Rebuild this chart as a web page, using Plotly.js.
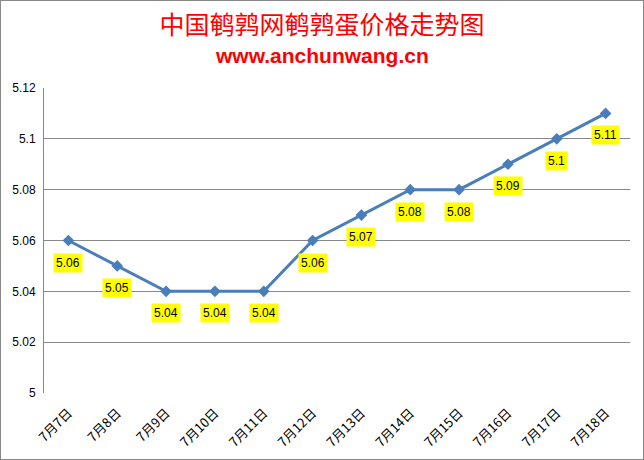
<!DOCTYPE html>
<html>
<head>
<meta charset="utf-8">
<script src="https://cdn.plot.ly/plotly-3.0.1.min.js"></script>
<style>
  body { margin: 0; }
  #plot { width: 642px; height: 458px; border: 1px solid #888; }
</style>
</head>
<body>
<div id="plot"></div>
<script>
var dates = ['7月7日', '7月8日', '7月9日', '7月10日', '7月11日', '7月12日',
             '7月13日', '7月14日', '7月15日', '7月16日', '7月17日', '7月18日'];
var prices = [5.06, 5.05, 5.04, 5.04, 5.04, 5.06, 5.07, 5.08, 5.08, 5.09, 5.1, 5.11];

var trace1 = {
  x: dates,
  y: prices,
  mode: 'lines+markers',
  type: 'scatter',
  line: { color: '#4a7ebb', width: 3 },
  marker: { symbol: 'diamond', size: 9, color: '#4a7ebb' },
  hoverinfo: 'x+y'
};

// yellow value labels under each point
var labels = dates.map(function (d, i) {
  return {
    x: d,
    y: prices[i],
    text: String(prices[i]),
    showarrow: false,
    yshift: -22,
    bgcolor: '#ffff00',
    borderpad: 2,
    font: { family: 'Liberation Sans, Arial', size: 12, color: '#000' }
  };
});

// subtitle, centred on the whole chart rather than the plot area
labels.push({
  xref: 'paper', yref: 'paper',
  x: 0.4744, y: 1,
  xanchor: 'center',
  yanchor: 'middle',
  yshift: 33,
  text: '<b>www.anchunwang.cn</b>',
  showarrow: false,
  font: { family: 'Liberation Sans, Arial', size: 21, color: '#ff0000' }
});

var layout = {
  width: 642,
  height: 458,
  margin: { l: 43, r: 13, t: 87, b: 66 },
  paper_bgcolor: '#fff',
  plot_bgcolor: '#fff',
  showlegend: false,
  title: {
    text: '中国鹌鹑网鹌鹑蛋价格走势图',
    x: 0.5,
    y: 0.948,
    xanchor: 'center',
    yanchor: 'middle',
    font: { family: 'Noto Sans CJK SC', size: 25, color: '#ff0000' }
  },
  xaxis: {
    type: 'category',
    range: [-0.5, dates.length - 0.5],
    tickangle: -45,
    showgrid: false,
    showline: false,
    ticks: '',
    ticklabelstandoff: 9,
    tickfont: { family: 'Noto Sans CJK SC', size: 13, color: '#000' }
  },
  yaxis: {
    range: [5, 5.12],
    dtick: 0.02,
    tick0: 5,
    showline: true,
    linecolor: '#888',
    linewidth: 1,
    gridcolor: '#888',
    gridwidth: 1,
    zeroline: false,
    ticks: '',
    ticklabelstandoff: 5,
    tickfont: { family: 'Liberation Sans, Arial', size: 12, color: '#000' }
  },
  annotations: labels
};

Plotly.newPlot('plot', [trace1], layout, { displayModeBar: false });
</script>
</body>
</html>
